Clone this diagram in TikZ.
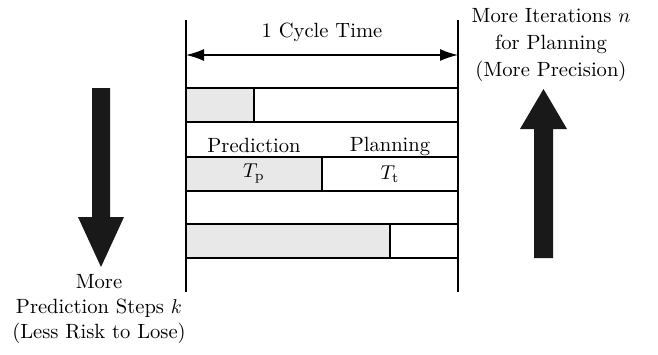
\documentclass[tikz,border=0pt]{standalone}
\usetikzlibrary{arrows.meta}
\begin{document}
\begin{tikzpicture}[x=0.5pt, y=-0.5pt, font=\fontsize{10.3}{13.5}\selectfont]
\useasboundingbox (0,0) rectangle (658,354);
% cycle borders (1 unit = 1 px of the figure, y downwards)
\coordinate (lt) at (186,20);
\coordinate (lb) at (186,292);
\coordinate (rt) at (458,20);
\coordinate (rb) at (458,292);
\draw[line width=0.9pt] (lt) -- (lb);
\draw[line width=0.9pt] (rt) -- (rb);
\coordinate (cl) at (186,55);
\coordinate (cr) at (458,55);
\draw[{Latex[length=9pt,width=6pt]}-{Latex[length=9pt,width=6pt]}, line width=0.8pt] (cl) -- (cr)
  node[midway, above=3pt] (cycle) {1 Cycle Time};
% bars: top edge / end of the prediction part
\foreach \yt/\xs in {88/254, 157/322, 224/390} {
  \fill[black!9] (186,\yt) rectangle (\xs,\yt+34);
  \draw[line width=0.7pt] (186,\yt) rectangle (458,\yt+34);
  \draw[line width=0.7pt] (\xs,\yt) -- (\xs,\yt+34);
}
\node (pred) at (254,145) {Prediction};
\node (plan) at (390,146) {Planning};
\node (tp) at (254,174) {$T_{\mathrm{p}}$};
\node (tt) at (390,174) {$T_{\mathrm{t}}$};
% big arrows
\fill[black!90] (92,88) -- (110,88) -- (110,217) -- (124,217) -- (101,267) -- (78,217) -- (92,217) -- cycle;
\fill[black!90] (534,258) -- (553,258) -- (553,129) -- (567,129) -- (543.5,89) -- (520,129) -- (534,129) -- cycle;
\node[anchor=north, align=center, font=\fontsize{10.3}{12.6}\selectfont] (steps) at (99,267) {More\\Prediction Steps $k$\\(Less Risk to Lose)};
\node[anchor=north, align=center] (iters) at (551,1) {More Iterations $n$\\for Planning\\(More Precision)};
\end{tikzpicture}
\end{document}
